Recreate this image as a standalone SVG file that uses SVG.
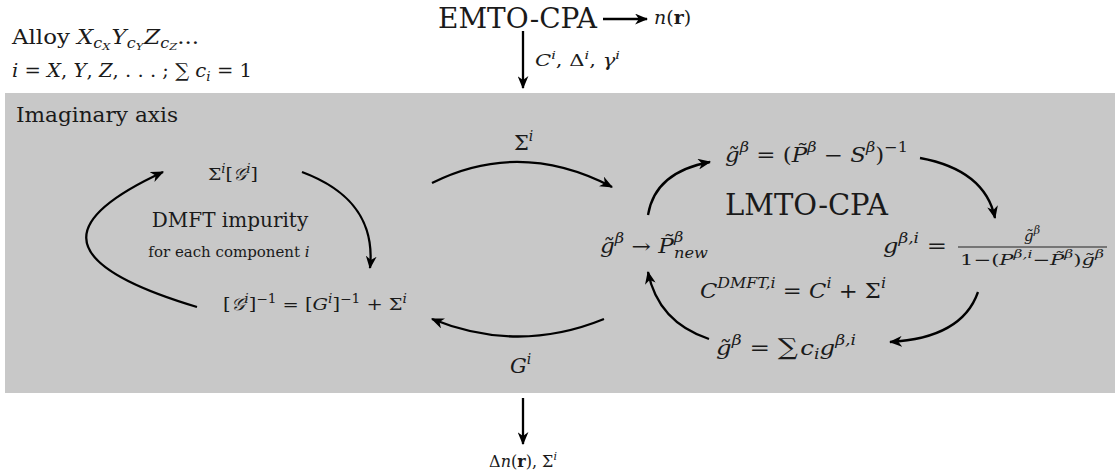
<svg xmlns="http://www.w3.org/2000/svg" width="1120" height="474" viewBox="0 0 1120 474" font-family="'DejaVu Serif', serif">
<style>
text{font-family:"DejaVu Serif","Liberation Serif",serif;fill:#1a1a1a}
.i{font-style:italic}
.c{stroke:#000;stroke-width:2.3;fill:none}
</style>
<defs>
<marker id="ah" viewBox="0 0 12 10" refX="11" refY="5" markerWidth="13" markerHeight="11" markerUnits="userSpaceOnUse" orient="auto">
<path d="M0,0 L12,5 L0,10 L3.5,5 z" fill="#000"/>
</marker>
</defs>
<rect x="5" y="93" width="1110" height="300" fill="#c8c8c8"/>
<g id="alloy">
<text x="12" y="44" font-size="20" textLength="187" lengthAdjust="spacingAndGlyphs">Alloy <tspan class="i">X</tspan><tspan class="i" font-size="14" dy="4">c</tspan><tspan class="i" font-size="10" dy="2">X</tspan><tspan class="i" dx="1" dy="-6">Y</tspan><tspan class="i" font-size="14" dy="4">c</tspan><tspan class="i" font-size="10" dy="2">Y</tspan><tspan class="i" dx="1" dy="-6">Z</tspan><tspan class="i" font-size="14" dy="4">c</tspan><tspan class="i" font-size="10" dy="2">Z</tspan><tspan dy="-6">...</tspan></text>
<text x="12" y="77" font-size="19" textLength="240" lengthAdjust="spacingAndGlyphs"><tspan class="i">i</tspan> = <tspan class="i">X</tspan>, <tspan class="i">Y</tspan>, <tspan class="i">Z</tspan>, . . . ; ∑ <tspan class="i">c</tspan><tspan class="i" font-size="13" dy="4">i</tspan><tspan dy="-4"> = 1</tspan></text>
</g>
<g id="emto">
<text x="438" y="28" font-size="27" textLength="159" lengthAdjust="spacingAndGlyphs">EMTO-CPA</text>
<text x="654" y="24" font-size="19"><tspan class="i">n</tspan>(<tspan font-weight="bold">r</tspan>)</text>
</g>
<g id="label-in">
<text x="535" y="66" font-size="16" textLength="85" lengthAdjust="spacingAndGlyphs"><tspan class="i">C</tspan><tspan class="i" font-size="11" dy="-7">i</tspan><tspan dy="7">, Δ</tspan><tspan class="i" font-size="11" dy="-7">i</tspan><tspan dy="7">, </tspan><tspan class="i">γ</tspan><tspan class="i" font-size="11" dy="-7">i</tspan></text>
</g>
<g id="imag">
<text x="16" y="122" font-size="21" textLength="162" lengthAdjust="spacingAndGlyphs">Imaginary axis</text>
</g>
<g id="sigma-label">
<text x="514" y="150" font-size="21">Σ<tspan class="i" font-size="14" dy="-9">i</tspan></text>
</g>
<g id="dmft-self">
<text x="208" y="180" font-size="17" textLength="50" lengthAdjust="spacingAndGlyphs">Σ<tspan class="i" font-size="12" dy="-7">i</tspan><tspan dy="7">[</tspan><tspan class="i">𝒢</tspan><tspan class="i" font-size="12" dy="-7">i</tspan><tspan dy="7">]</tspan></text>
</g>
<g id="dmft-title">
<text x="230" y="227" font-size="20" text-anchor="middle">DMFT impurity</text>
<text x="229" y="257" font-size="15" text-anchor="middle">for each component <tspan class="i">i</tspan></text>
</g>
<g id="dmft-dyson">
<text x="223" y="310" font-size="17" textLength="184" lengthAdjust="spacingAndGlyphs">[<tspan class="i">𝒢</tspan><tspan class="i" font-size="12" dy="-7">i</tspan><tspan dy="7">]</tspan><tspan font-size="12" dy="-7">−1</tspan><tspan dy="7"> = [</tspan><tspan class="i">G</tspan><tspan class="i" font-size="12" dy="-7">i</tspan><tspan dy="7">]</tspan><tspan font-size="12" dy="-7">−1</tspan><tspan dy="7"> + Σ</tspan><tspan class="i" font-size="12" dy="-7">i</tspan></text>
</g>
<g id="g-label">
<text x="510" y="373" font-size="21" class="i">G<tspan font-size="14" dy="-9">i</tspan></text>
</g>
<g id="out">
<text x="523" y="467" font-size="16" text-anchor="middle">Δ<tspan class="i">n</tspan>(<tspan font-weight="bold">r</tspan>), Σ<tspan class="i" font-size="11" dy="-7">i</tspan></text>
</g>
<g id="pnew">
<text x="600" y="253" font-size="20" textLength="108" lengthAdjust="spacingAndGlyphs"><tspan class="i">g̃</tspan><tspan class="i" font-size="14" dy="-10">β</tspan><tspan dy="10"> → </tspan><tspan class="i">P̃</tspan><tspan class="i" font-size="14" dy="-11">β</tspan><tspan class="i" font-size="14" dx="-8" dy="16">new</tspan></text>
</g>
<g id="gtilde">
<text x="725" y="162" font-size="20" textLength="183" lengthAdjust="spacingAndGlyphs"><tspan class="i">g̃</tspan><tspan class="i" font-size="14" dy="-10">β</tspan><tspan dy="10"> = (</tspan><tspan class="i">P̃</tspan><tspan class="i" font-size="14" dy="-10">β</tspan><tspan dy="10"> − </tspan><tspan class="i">S</tspan><tspan class="i" font-size="14" dy="-10">β</tspan><tspan dy="10">)</tspan><tspan font-size="14" dy="-10">−1</tspan></text>
</g>
<g id="lmto">
<text x="725" y="215" font-size="29">LMTO-CPA</text>
</g>
<g id="gbi">
<text x="883" y="253" font-size="20" textLength="64" lengthAdjust="spacingAndGlyphs"><tspan class="i">g</tspan><tspan class="i" font-size="14" dy="-10">β,i</tspan><tspan dy="10"> =</tspan></text>
<text x="1032" y="241" font-size="15" text-anchor="middle"><tspan class="i">g̃</tspan><tspan class="i" font-size="11" dy="-7">β</tspan></text>
<line x1="958" y1="247" x2="1107" y2="247" stroke="#222" stroke-width="1.2"/>
<text x="960" y="265" font-size="15" textLength="144" lengthAdjust="spacingAndGlyphs">1−(<tspan class="i">P</tspan><tspan class="i" font-size="11" dy="-7">β,i</tspan><tspan dy="7">−</tspan><tspan class="i">P̃</tspan><tspan class="i" font-size="11" dy="-7">β</tspan><tspan dy="7">)</tspan><tspan class="i">g̃</tspan><tspan class="i" font-size="11" dy="-7">β</tspan></text>
</g>
<g id="cdmft">
<text x="700" y="298" font-size="20" textLength="186" lengthAdjust="spacingAndGlyphs"><tspan class="i">C</tspan><tspan class="i" font-size="14" dy="-10">DMFT,i</tspan><tspan dy="10"> = </tspan><tspan class="i">C</tspan><tspan class="i" font-size="14" dy="-10">i</tspan><tspan dy="10"> + Σ</tspan><tspan class="i" font-size="14" dy="-10">i</tspan></text>
</g>
<g id="gsum">
<text x="716" y="355" font-size="20" textLength="140" lengthAdjust="spacingAndGlyphs"><tspan class="i">g̃</tspan><tspan class="i" font-size="14" dy="-10">β</tspan><tspan dy="10"> = </tspan><tspan font-size="23">∑</tspan><tspan class="i" dx="2">c</tspan><tspan class="i" font-size="14" dy="4">i</tspan><tspan class="i" dy="-4">g</tspan><tspan class="i" font-size="14" dy="-10">β,i</tspan></text>
</g>
<g id="connectors">
<line class="c" x1="603" y1="19" x2="647" y2="19" marker-end="url(#ah)"/>
<line class="c" x1="523" y1="31" x2="523" y2="88" marker-end="url(#ah)"/>
<line class="c" x1="523" y1="398" x2="523" y2="444" marker-end="url(#ah)"/>
<path class="c" d="M432,183 Q520,139 612,187" marker-end="url(#ah)"/>
<path class="c" d="M604,319 Q518,354 432,319" marker-end="url(#ah)"/>
<path class="c" d="M302,172 C350,190 375,220 370,268" marker-end="url(#ah)"/>
<path class="c" d="M197,307 C40,260 70,215 163,172" marker-end="url(#ah)"/>
<path class="c" d="M648,215 Q655,172 710,162" marker-end="url(#ah)"/>
<path class="c" d="M920,158 Q985,170 995,218" marker-end="url(#ah)"/>
<path class="c" d="M978,292 Q962,338 890,342" marker-end="url(#ah)"/>
<path class="c" d="M709,339 Q658,322 648,272" marker-end="url(#ah)"/>
</g>
</svg>
